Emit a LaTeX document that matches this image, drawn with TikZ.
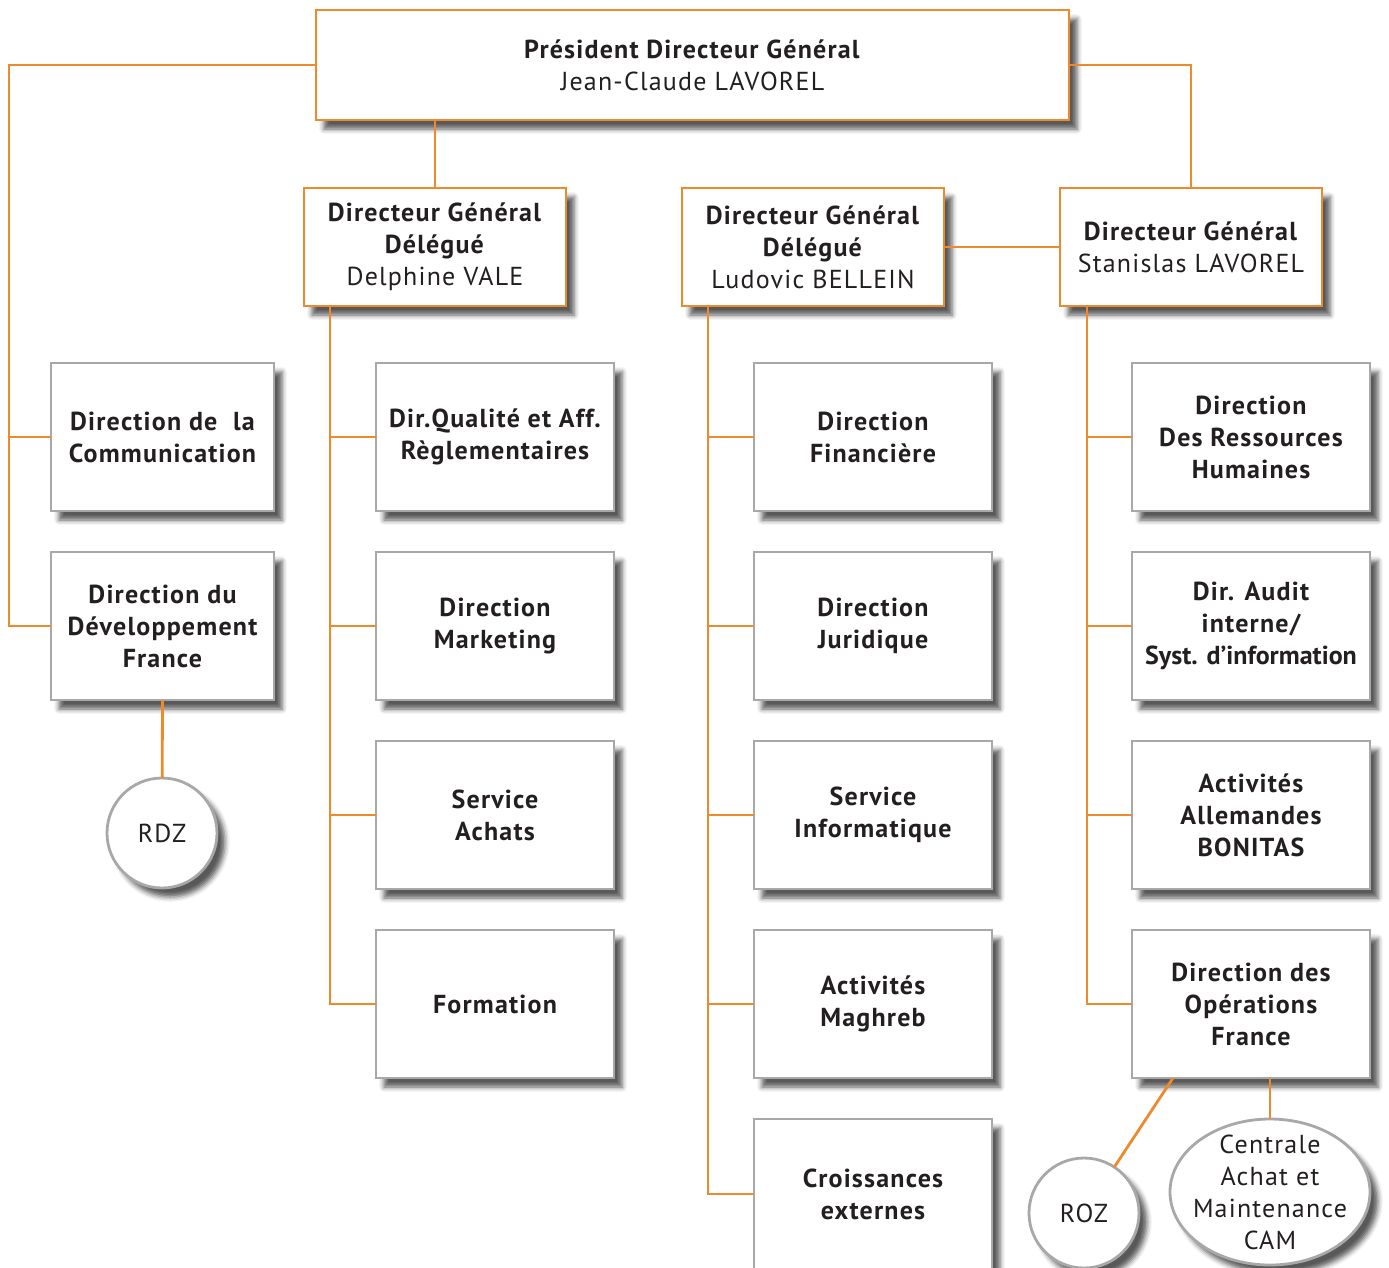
\documentclass[tikz,border=0pt]{standalone}
\usepackage{fontspec}
\setmainfont{PT Sans}[LetterSpace=4.6]
\newfontfamily\narrowfont{PT Sans}[LetterSpace=0]
\usetikzlibrary{shapes.geometric,shadows.blur}
\definecolor{orng}{HTML}{EE8A2E}
\definecolor{boxgrey}{HTML}{A8A8A8}
\definecolor{txt}{HTML}{231F20}
\tikzset{
  base/.style={fill=white, line width=2.8pt, inner sep=0pt, outer sep=0pt, align=center, text=txt,
    blur shadow={shadow xshift=8pt, shadow yshift=-9pt, shadow blur radius=5pt, shadow opacity=65}},
  obox/.style={base, rectangle, draw=orng, font=\fontsize{26}{32}\selectfont},
  gbox/.style={base, rectangle, draw=boxgrey, minimum width=238pt, minimum height=148pt, font=\bfseries\fontsize{26}{32}\selectfont},
  circ/.style={base, circle, draw=boxgrey, minimum size=110pt, font=\fontsize{26}{32}\selectfont},
  ell/.style={base, ellipse, draw=boxgrey, inner sep=-30pt, minimum width=200pt, minimum height=146pt, font=\fontsize{26}{32}\selectfont},
  conn/.style={draw=orng, line width=2.8pt}
}
\begin{document}
\begin{tikzpicture}[x=1pt, y=-1pt]
\useasboundingbox (0,0) rectangle (1389,1267);
% top level
\node[obox, minimum width=753pt, minimum height=110pt] (pdg) at (692.5,65) {\textbf{Président Directeur Général}\\Jean-Claude LAVOREL};
\node[obox, minimum width=262pt, minimum height=118pt] (vale) at (435,247) {\textbf{Directeur Général}\\\textbf{Délégué}\\Delphine VALE};
\node[obox, minimum width=262pt, minimum height=118pt] (bel) at (813,247) {\textbf{Directeur Général}\\\textbf{Délégué}\\Ludovic BELLEIN};
\node[obox, minimum width=262pt, minimum height=118pt] (dgs) at (1191,247) {\textbf{Directeur Général}\\Stanislas LAVOREL};
% column 1
\node[gbox, minimum width=223pt] (comm) at (162.5,437) {Direction de\ \ la\\Communication};
\node[gbox, minimum width=223pt] (devfr) at (162.5,626) {Direction du\\Développement\\France};
\node[circ] (rdz) at (162,833) {RDZ};
% column 2
\node[gbox] (qual) at (495,437) {Dir.Qualité et Aff.\\Règlementaires};
\node[gbox] (mark) at (495,626) {Direction\\Marketing};
\node[gbox] (achat) at (495,815) {Service\\Achats};
\node[gbox] (form) at (495,1004) {Formation};
% column 3
\node[gbox] (fin) at (873,437) {Direction\\Financière};
\node[gbox] (jur) at (873,626) {Direction\\Juridique};
\node[gbox] (info) at (873,815) {Service\\Informatique};
\node[gbox] (magh) at (873,1004) {Activités\\Maghreb};
\node[gbox, minimum height=150pt] (crois) at (873,1194) {Croissances\\externes};
% column 4
\node[gbox] (rh) at (1251,437) {Direction\\Des Ressources\\Humaines};
\node[gbox] (audit) at (1251,626) {Dir. Audit\\interne/\\{\narrowfont Syst. d’information}};
\node[gbox] (allem) at (1251,815) {Activités\\Allemandes\\BONITAS};
\node[gbox] (ops) at (1251,1004) {Direction des\\Opérations\\France};
\node[circ] (roz) at (1084,1213) {ROZ};
\node[ell] (cam) at (1270,1192) {Centrale\\Achat et\\Maintenance\\CAM};
% connectors
\coordinate (L) at (9,65);
\draw[conn] (pdg.west) -- (L) |- (devfr.west);
\draw[conn] (comm.west) -- (comm.west -| L);
\draw[conn] (pdg.east) -| (dgs.north);
\draw[conn] (pdg.south -| vale.north) -- (vale.north);
\draw[conn] (bel.east) -- (bel.east -| dgs.west);
\draw[conn] (devfr.south) -- (rdz);
% Vale trunk
\coordinate (vt) at (330,306);
\draw[conn] (vt) |- (form.west);
\foreach \n in {qual,mark,achat} \draw[conn] (\n.west) -- (\n.west -| vt);
% Bellein trunk
\coordinate (bt) at (708,306);
\draw[conn] (bt) -- (bt |- crois.west) -- (crois.west);
\foreach \n in {fin,jur,info,magh} \draw[conn] (\n.west) -- (\n.west -| bt);
% Stanislas trunk
\coordinate (st) at (1087,306);
\draw[conn] (st) |- (ops.west);
\foreach \n in {rh,audit,allem} \draw[conn] (\n.west) -- (\n.west -| st);
% Operations children
\coordinate (opsr) at (1173,1078);
\draw[conn] (opsr) -- (roz);
\draw[conn] (ops.south -| cam.north) -- (cam.north);
\end{tikzpicture}
\end{document}
